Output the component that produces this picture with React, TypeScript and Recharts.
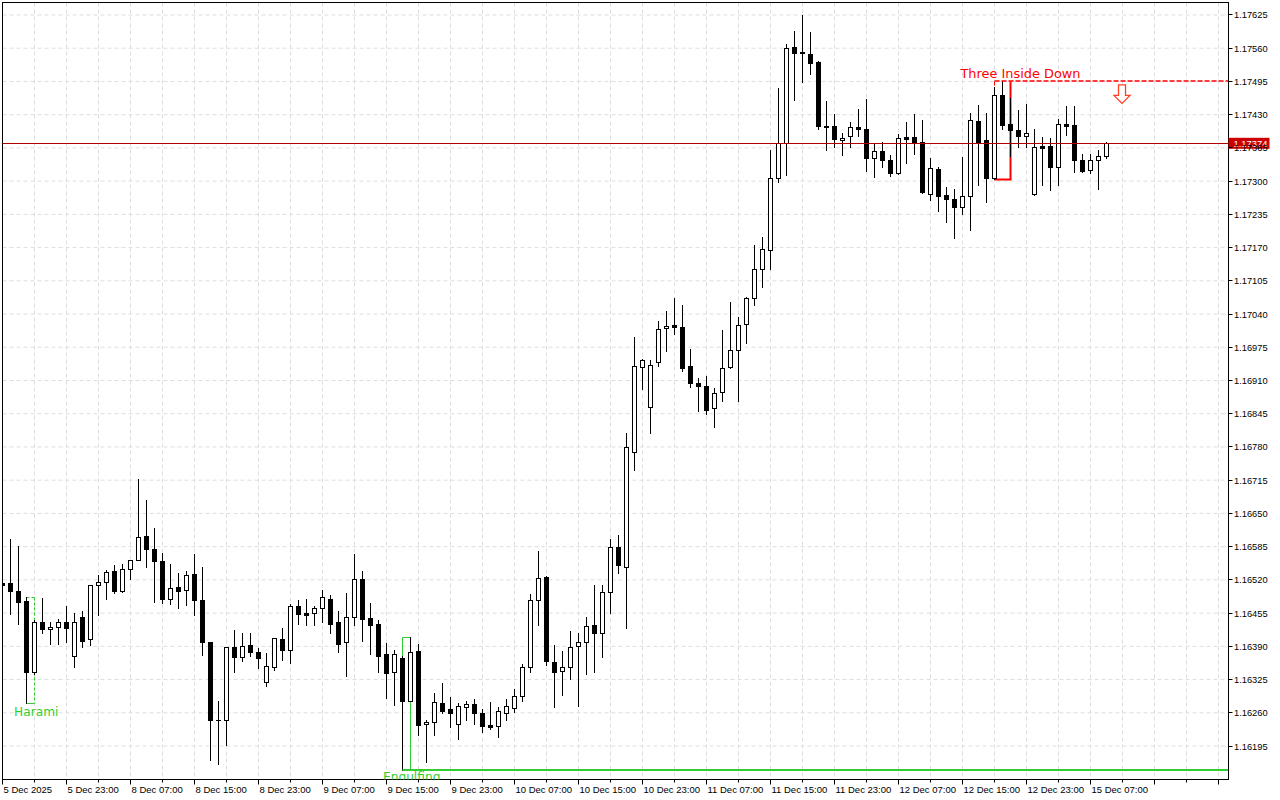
import React from 'react';
import { ComposedChart, Bar, XAxis, YAxis, CartesianGrid, ReferenceLine, ReferenceArea, ReferenceDot } from 'recharts';

// EURUSD H1 candles, 5 Dec 15:00 .. 15 Dec 09:00
const opens = [
  1.16514, 1.16513, 1.16498, 1.16479, 1.16339, 1.16437, 1.16423, 1.16427, 1.16437, 1.16372,
  1.16447, 1.16404, 1.16509, 1.16516, 1.16537, 1.16498, 1.16541, 1.16558, 1.16605, 1.16580,
  1.16557, 1.16482, 1.16507, 1.16500, 1.16531, 1.16481, 1.16398, 1.16245, 1.16246, 1.16389,
  1.16370, 1.16393, 1.16378, 1.16321, 1.16350, 1.16404, 1.16382, 1.16469, 1.16455, 1.16455,
  1.16464, 1.16483, 1.16438, 1.16398, 1.16447, 1.16521, 1.16445, 1.16434, 1.16375, 1.16340,
  1.16367, 1.16284, 1.16381, 1.16238, 1.16241, 1.16279, 1.16267, 1.16238, 1.16272, 1.16277,
  1.16259, 1.16236, 1.16235, 1.16260, 1.16270, 1.16293, 1.16350, 1.16480, 1.16525, 1.16360,
  1.16341, 1.16349, 1.16390, 1.16398, 1.16431, 1.16417, 1.16496, 1.16584, 1.16545, 1.16771,
  1.16936, 1.16858, 1.16946, 1.17012, 1.17018, 1.17014, 1.16938, 1.16906, 1.16899, 1.16856,
  1.16887, 1.16936, 1.16969, 1.17020, 1.17071, 1.17128, 1.17165, 1.17306, 1.17374, 1.17562,
  1.17552, 1.17549, 1.17533, 1.17408, 1.17407, 1.17380, 1.17389, 1.17406, 1.17401, 1.17346,
  1.17358, 1.17341, 1.17315, 1.17386, 1.17386, 1.17377, 1.17274, 1.17323, 1.17273, 1.17265,
  1.17249, 1.17270, 1.17418, 1.17380, 1.17307, 1.17469, 1.17411, 1.17400, 1.17389, 1.17275,
  1.17369, 1.17369, 1.17328, 1.17412, 1.17409, 1.17341, 1.17322, 1.17341, 1.17350,
];
const highs = [
  1.16530, 1.16600, 1.16586, 1.16487, 1.16442, 1.16485, 1.16437, 1.16443, 1.16469, 1.16455,
  1.16459, 1.16510, 1.16530, 1.16539, 1.16550, 1.16552, 1.16559, 1.16717, 1.16676, 1.16621,
  1.16572, 1.16552, 1.16533, 1.16537, 1.16571, 1.16546, 1.16399, 1.16283, 1.16389, 1.16421,
  1.16416, 1.16416, 1.16386, 1.16376, 1.16406, 1.16426, 1.16473, 1.16481, 1.16483, 1.16469,
  1.16500, 1.16490, 1.16459, 1.16495, 1.16571, 1.16537, 1.16475, 1.16442, 1.16396, 1.16383,
  1.16372, 1.16409, 1.16394, 1.16246, 1.16298, 1.16318, 1.16291, 1.16279, 1.16283, 1.16287,
  1.16267, 1.16281, 1.16271, 1.16286, 1.16306, 1.16355, 1.16492, 1.16576, 1.16528, 1.16393,
  1.16381, 1.16420, 1.16416, 1.16447, 1.16510, 1.16509, 1.16599, 1.16608, 1.16807, 1.16995,
  1.16953, 1.16951, 1.17026, 1.17045, 1.17071, 1.17057, 1.16972, 1.16914, 1.16918, 1.16895,
  1.17009, 1.17063, 1.17034, 1.17073, 1.17176, 1.17190, 1.17361, 1.17482, 1.17568, 1.17594,
  1.17625, 1.17592, 1.17534, 1.17457, 1.17431, 1.17394, 1.17416, 1.17442, 1.17461, 1.17374,
  1.17377, 1.17352, 1.17392, 1.17415, 1.17431, 1.17419, 1.17345, 1.17328, 1.17289, 1.17285,
  1.17348, 1.17434, 1.17449, 1.17433, 1.17484, 1.17496, 1.17462, 1.17439, 1.17450, 1.17402,
  1.17386, 1.17384, 1.17421, 1.17446, 1.17446, 1.17354, 1.17354, 1.17361, 1.17376,
];
const lows = [
  1.16496, 1.16453, 1.16434, 1.16279, 1.16336, 1.16417, 1.16395, 1.16395, 1.16398, 1.16350,
  1.16389, 1.16393, 1.16451, 1.16483, 1.16495, 1.16496, 1.16521, 1.16558, 1.16546, 1.16477,
  1.16475, 1.16473, 1.16464, 1.16471, 1.16452, 1.16373, 1.16168, 1.16160, 1.16197, 1.16340,
  1.16362, 1.16371, 1.16347, 1.16313, 1.16344, 1.16363, 1.16358, 1.16434, 1.16432, 1.16432,
  1.16438, 1.16417, 1.16378, 1.16332, 1.16432, 1.16401, 1.16375, 1.16340, 1.16288, 1.16276,
  1.16148, 1.16283, 1.16217, 1.16164, 1.16217, 1.16260, 1.16233, 1.16209, 1.16245, 1.16239,
  1.16222, 1.16229, 1.16213, 1.16246, 1.16261, 1.16284, 1.16340, 1.16432, 1.16354, 1.16272,
  1.16295, 1.16327, 1.16274, 1.16335, 1.16340, 1.16370, 1.16455, 1.16534, 1.16425, 1.16734,
  1.16893, 1.16808, 1.16939, 1.16968, 1.17000, 1.16929, 1.16898, 1.16851, 1.16844, 1.16820,
  1.16870, 1.16934, 1.16869, 1.16984, 1.17058, 1.17093, 1.17128, 1.17299, 1.17312, 1.17459,
  1.17494, 1.17509, 1.17401, 1.17361, 1.17367, 1.17351, 1.17367, 1.17388, 1.17320, 1.17309,
  1.17328, 1.17310, 1.17313, 1.17335, 1.17353, 1.17276, 1.17263, 1.17242, 1.17221, 1.17189,
  1.17236, 1.17204, 1.17292, 1.17260, 1.17305, 1.17401, 1.17349, 1.17366, 1.17366, 1.17273,
  1.17292, 1.17283, 1.17292, 1.17390, 1.17318, 1.17318, 1.17316, 1.17284, 1.17345,
];
const closes = [
  1.16510, 1.16499, 1.16477, 1.16339, 1.16438, 1.16423, 1.16427, 1.16438, 1.16425, 1.16438,
  1.16401, 1.16509, 1.16515, 1.16535, 1.16499, 1.16541, 1.16558, 1.16603, 1.16580, 1.16556,
  1.16483, 1.16505, 1.16499, 1.16529, 1.16480, 1.16399, 1.16246, 1.16246, 1.16389, 1.16370,
  1.16390, 1.16378, 1.16368, 1.16351, 1.16406, 1.16383, 1.16468, 1.16454, 1.16452, 1.16464,
  1.16486, 1.16434, 1.16395, 1.16447, 1.16521, 1.16444, 1.16432, 1.16371, 1.16338, 1.16375,
  1.16284, 1.16378, 1.16236, 1.16242, 1.16282, 1.16264, 1.16260, 1.16273, 1.16277, 1.16259,
  1.16235, 1.16233, 1.16263, 1.16273, 1.16293, 1.16349, 1.16480, 1.16523, 1.16362, 1.16340,
  1.16349, 1.16389, 1.16398, 1.16429, 1.16416, 1.16496, 1.16584, 1.16550, 1.16779, 1.16938,
  1.16951, 1.16940, 1.17011, 1.17017, 1.17014, 1.16935, 1.16906, 1.16900, 1.16853, 1.16886,
  1.16934, 1.16969, 1.17018, 1.17071, 1.17128, 1.17167, 1.17307, 1.17374, 1.17560, 1.17551,
  1.17550, 1.17532, 1.17408, 1.17406, 1.17383, 1.17384, 1.17405, 1.17401, 1.17345, 1.17358,
  1.17342, 1.17315, 1.17384, 1.17383, 1.17375, 1.17279, 1.17325, 1.17271, 1.17266, 1.17249,
  1.17271, 1.17419, 1.17377, 1.17307, 1.17468, 1.17410, 1.17400, 1.17389, 1.17394, 1.17366,
  1.17365, 1.17328, 1.17411, 1.17408, 1.17341, 1.17320, 1.17341, 1.17350, 1.17374,
];

// time labels, one every 8 bars
const xLabels = [
  '5 Dec 2025', '5 Dec 23:00', '8 Dec 07:00', '8 Dec 15:00', '8 Dec 23:00', '9 Dec 07:00',
  '9 Dec 15:00', '9 Dec 23:00', '10 Dec 07:00', '10 Dec 15:00', '10 Dec 23:00', '11 Dec 07:00',
  '11 Dec 15:00', '11 Dec 23:00', '12 Dec 07:00', '12 Dec 15:00', '12 Dec 23:00', '15 Dec 07:00',
];
const priceTicks = [
  1.16195, 1.1626, 1.16325, 1.1639, 1.16455, 1.1652, 1.16585, 1.1665, 1.16715, 1.1678, 1.16845,
  1.1691, 1.16975, 1.1704, 1.17105, 1.1717, 1.17235, 1.173, 1.17365, 1.1743, 1.17495, 1.1756, 1.17625,
];

// patterns
const harami = { k1: 3, k2: 4, top: 1.16487, bottom: 1.16279 };
const engulfing = { k1: 50, k2: 51, top: 1.16409, bottom: 1.16148 };
const threeInside = { k1: 124, k2: 126, top: 1.17496, bottom: 1.17305 };
const bidPrice = 1.17374;

const X_MIN = 0;
const X_MAX = 153.25;
const Y_MIN = 1.161295;
const Y_MAX = 1.176494;

const data = opens.map((o, i) => ({ k: i, o, h: highs[i], l: lows[i], c: closes[i], range: [lows[i], highs[i]] }));
const gridTicks = Array.from({ length: 39 }, (_, i) => i * 4);

const GREEN = '#32cd32';
const RED = '#ff0000';
const AXIS_FONT = '"Liberation Sans", Arial, sans-serif';
const NOTE_FONT = '"DejaVu Sans", sans-serif';

const snap = (v: number) => Math.round(v - 0.5) + 0.5;

const Candle = (props: any) => {
  const { x, y, width, height, payload } = props;
  if (x == null || y == null || !payload) return null;
  const { o, h, l, c } = payload;
  const cx = snap(x + width / 2);
  const span = h - l;
  const py = (p: number) => (span === 0 ? y : y + ((h - p) / span) * height);
  const yH = Math.round(py(h));
  const yL = Math.round(py(l));
  const top = Math.round(py(Math.max(o, c))) + 0.5;
  const bot = Math.round(py(Math.min(o, c))) + 0.5;
  const bull = c >= o;
  return (
    <g clipPath="url(#plotClip)">
      <line x1={cx} x2={cx} y1={yH} y2={yL + 1} stroke="#000" strokeWidth={1} />
      {bot - top < 1 ? (
        <line x1={cx - 2.5} x2={cx + 2.5} y1={top} y2={top} stroke="#000" strokeWidth={1} />
      ) : (
        <rect x={cx - 2} y={top} width={4} height={bot - top} fill={bull ? '#fff' : '#000'} stroke="#000" strokeWidth={1} />
      )}
    </g>
  );
};

const FrameShape = (props: any) => {
  const { x, y, width, height } = props;
  return (
    <g>
      <defs>
        <clipPath id="plotClip">
          <rect x={x} y={y} width={width} height={height} />
        </clipPath>
      </defs>
      <rect x={x} y={y} width={width} height={height} fill="none" stroke="#000" strokeWidth={1} />
    </g>
  );
};

const HaramiShape = (props: any) => {
  const { x, y, width, height } = props;
  const x1 = snap(x);
  const x2 = snap(x + width);
  const y1 = Math.round(y) + 0.5;
  const y2 = Math.round(y + height) + 0.5;
  return (
    <g stroke={GREEN} strokeWidth={1} fill="none">
      <line x1={x1} x2={x2} y1={y1} y2={y1} strokeDasharray="3 2" />
      <line x1={x1} x2={x1} y1={y1} y2={y2} strokeDasharray="3 2" />
      <line x1={x2} x2={x2} y1={y1} y2={y2} strokeDasharray="3 2" />
      <line x1={x1} x2={x2} y1={y2} y2={y2} />
    </g>
  );
};

const EngulfShape = (props: any) => {
  const { x, y, width, height } = props;
  const x1 = snap(x);
  const x2 = snap(x + width);
  const y1 = Math.round(y) + 0.5;
  const y2 = Math.round(y + height);
  return (
    <g stroke={GREEN} strokeWidth={1} fill="none">
      <line x1={x1} x2={x2} y1={y1} y2={y1} />
      <line x1={x1} x2={x1} y1={y1} y2={y2} />
      <line x1={x2} x2={x2} y1={y1} y2={y2} />
    </g>
  );
};

const ThreeShape = (props: any) => {
  const { x, y, width, height } = props;
  const x1 = snap(x);
  const x2 = snap(x + width);
  const y1 = Math.round(y) + 0.5;
  const y2 = Math.round(y + height) + 0.5;
  return (
    <g stroke={RED} fill="none">
      <line x1={x1} x2={x1} y1={y1} y2={y2} strokeWidth={1} strokeDasharray="4 2" />
      <line x1={x2} x2={x2} y1={y1} y2={y2} strokeWidth={2} />
      <line x1={x1} x2={x2 + 1} y1={y2} y2={y2} strokeWidth={2} />
    </g>
  );
};

const HLineShape = (props: any) => {
  const { x1, x2, y1, stroke, strokeWidth, strokeDasharray } = props;
  const yy = snap(y1);
  return <line x1={x1} x2={x2} y1={yy} y2={yy} stroke={stroke} strokeWidth={strokeWidth} strokeDasharray={strokeDasharray} />;
};

const textShape = (label: string, color: string, size: number, clip?: boolean) => (props: any) => (
  <text
    x={props.cx}
    y={props.cy}
    fill={color}
    fontSize={size}
    fontFamily={NOTE_FONT}
    textAnchor="start"
    clipPath={clip ? 'url(#plotClip)' : undefined}
  >
    {label}
  </text>
);

const ArrowShape = (props: any) => {
  const { cx, cy } = props;
  const pts = [
    [cx - 3.5, cy - 18.5],
    [cx + 3.5, cy - 18.5],
    [cx + 3.5, cy - 8],
    [cx + 8, cy - 8],
    [cx, cy],
    [cx - 8, cy - 8],
    [cx - 3.5, cy - 8],
  ]
    .map((p) => p.join(','))
    .join(' ');
  return <polygon points={pts} fill="#fff" stroke="#ff4020" strokeWidth={1.3} />;
};

const PriceBox = (props: any) => {
  const { cx, cy } = props;
  return (
    <g>
      <rect x={cx} y={cy - 5.5} width={41} height={11} fill="#cc0000" />
      <text x={cx + 5} y={cy} dy="0.35em" fill="#fff" fontSize={9.4} fontFamily={AXIS_FONT}>
        {bidPrice.toFixed(5)}
      </text>
    </g>
  );
};

const XTick = (props: any) => {
  const { x, y, payload } = props;
  const k = payload.value as number;
  const major = k % 8 === 0;
  const label = major ? xLabels[k / 8] : undefined;
  const px = snap(x);
  return (
    <g>
      <line x1={px} x2={px} y1={y} y2={y + (major ? 5 : 3)} stroke="#000" />
      {label ? (
        <text x={px + 1} y={y + 13} fontSize={9.5} fontFamily={AXIS_FONT} fill="#000">
          {label}
        </text>
      ) : null}
    </g>
  );
};

const YTick = (props: any) => {
  const { x, y, payload } = props;
  const py = snap(y);
  return (
    <g>
      <line x1={x} x2={x + 4} y1={py} y2={py} stroke="#000" />
      <text x={x + 5.5} y={py} dy="0.36em" fontSize={9.3} fontFamily={AXIS_FONT} fill="#000">
        {(payload.value as number).toFixed(5)}
      </text>
    </g>
  );
};

export default function App() {
  return (
    <div style={{ position: 'fixed', left: 0, top: 0, width: 1280, height: 800, background: '#fff' }}>
      <ComposedChart
        width={1280}
        height={800}
        data={data}
        margin={{ top: 2.5, left: 2.5, right: 0, bottom: 0 }}
      >
        <CartesianGrid stroke="#dedede" strokeDasharray="4 3" />
        <XAxis
          dataKey="k"
          type="number"
          domain={[X_MIN, X_MAX]}
          allowDataOverflow
          ticks={gridTicks}
          interval={0}
          height={20.5}
          tickSize={0}
          tickMargin={0}
          tickLine={false}
          axisLine={{ stroke: '#000' }}
          tick={<XTick />}
        />
        <YAxis
          orientation="right"
          type="number"
          domain={[Y_MIN, Y_MAX]}
          allowDataOverflow
          ticks={priceTicks}
          interval={0}
          width={51.5}
          tickSize={0}
          tickMargin={0}
          tickLine={false}
          axisLine={{ stroke: '#000' }}
          tick={<YTick />}
        />
        <ReferenceArea x1={X_MIN} x2={X_MAX} y1={Y_MIN} y2={Y_MAX} ifOverflow="visible" shape={FrameShape} />
        <ReferenceArea
          x1={harami.k1}
          x2={harami.k2}
          y1={harami.bottom}
          y2={harami.top}
          ifOverflow="visible"
          shape={HaramiShape}
        />
        <ReferenceArea
          x1={engulfing.k1}
          x2={engulfing.k2}
          y1={engulfing.bottom}
          y2={engulfing.top}
          ifOverflow="visible"
          shape={EngulfShape}
        />
        <ReferenceArea
          x1={threeInside.k1}
          x2={threeInside.k2}
          y1={threeInside.bottom}
          y2={threeInside.top}
          ifOverflow="visible"
          shape={ThreeShape}
        />
        <ReferenceLine
          segment={[
            { x: engulfing.k1, y: engulfing.bottom },
            { x: X_MAX, y: engulfing.bottom },
          ]}
          stroke={GREEN}
          strokeWidth={2}
          ifOverflow="visible"
        />
        <ReferenceLine
          segment={[
            { x: threeInside.k1, y: threeInside.top },
            { x: X_MAX, y: threeInside.top },
          ]}
          stroke={RED}
          strokeWidth={1.5}
          strokeDasharray="5 2"
          ifOverflow="visible"
        />
        <ReferenceLine y={bidPrice} stroke="#b00000" strokeWidth={1} shape={HLineShape} />
        <Bar dataKey="range" barSize={5} shape={Candle} isAnimationActive={false} />
        <ReferenceDot x={1.44} y={1.16254} r={0} ifOverflow="visible" shape={textShape('Harami', GREEN, 12.2)} />
        <ReferenceDot x={47.56} y={1.16127} r={0} ifOverflow="visible" shape={textShape('Engulfing', GREEN, 12.2, true)} />
        <ReferenceDot x={119.75} y={1.17501} r={0} ifOverflow="visible" shape={textShape('Three Inside Down', RED, 12.9)} />
        <ReferenceDot x={139.94} y={1.17452} r={0} ifOverflow="visible" shape={ArrowShape} />
        <ReferenceDot x={X_MAX} y={bidPrice} r={0} ifOverflow="visible" shape={PriceBox} />
      </ComposedChart>
    </div>
  );
}
